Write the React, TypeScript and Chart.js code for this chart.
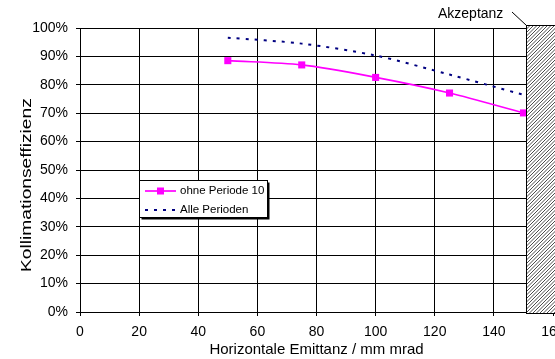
import React, { useEffect, useRef } from 'react';
import { Chart, registerables } from 'chart.js';

Chart.register(...registerables);

// Horizontal emittance (mm mrad) at which the collimation efficiency was evaluated
const emittance = [50, 75, 100, 125, 150];
// Collimation efficiency without period 10
const ohnePeriode10 = [0.885, 0.87, 0.826, 0.771, 0.701];
// Collimation efficiency over all periods
const allePerioden = [0.966, 0.945, 0.903, 0.836, 0.765];

const seriesLabels = ['ohne Periode 10', 'Alle Perioden'];
const xAxisTitle = 'Horizontale Emittanz / mm mrad';
const yAxisTitle = 'Kollimationseffizienz';
const acceptanceLabel = 'Akzeptanz';
// Emittance beyond which the beam is outside the acceptance (hatched band)
const acceptanceLimit = 151;

const xRange = [0, 160];
const xStep = 20;
const yRange = [0, 1];
const yStep = 0.1;

const FONT = '"Liberation Sans", Arial, Helvetica, sans-serif';
const MAGENTA = '#ff00ff';
const NAVY = '#000080';

// Hatched acceptance band with its label and leader line
const acceptancePlugin = {
  id: 'acceptanceBand',
  afterDatasetsDraw(chart: any) {
    const { ctx, chartArea, scales } = chart;
    const left = Math.round(scales.x.getPixelForValue(acceptanceLimit)) + 0.5;
    const right = chart.width + 2;
    const top = Math.round(chartArea.top) - 3 + 0.5;
    const bottom = Math.round(chartArea.bottom) + 1 + 0.5;
    const h = bottom - top;

    ctx.save();
    ctx.fillStyle = '#ffffff';
    ctx.fillRect(left, top, right - left, h);
    ctx.beginPath();
    ctx.rect(left, top, right - left, h);
    ctx.clip();
    ctx.beginPath();
    ctx.strokeStyle = '#000';
    ctx.lineWidth = 0.7;
    for (let s = left - h; s < right; s += 3.5) {
      ctx.moveTo(s, bottom);
      ctx.lineTo(s + h, top);
    }
    ctx.stroke();
    ctx.restore();

    ctx.save();
    ctx.strokeStyle = '#000';
    ctx.lineWidth = 1;
    ctx.strokeRect(left, top, right - left, h);

    // leader line from the label to the band's corner
    ctx.beginPath();
    ctx.moveTo(512, 12);
    ctx.lineTo(left, top);
    ctx.stroke();

    ctx.fillStyle = '#000';
    ctx.font = `14px ${FONT}`;
    ctx.textAlign = 'left';
    ctx.textBaseline = 'middle';
    ctx.fillText(acceptanceLabel, 438, 14);
    ctx.restore();
  },
};

// Boxed legend with drop shadow inside the plot area
const boxLegendPlugin = {
  id: 'boxLegend',
  afterDraw(chart: any) {
    const { ctx } = chart;
    const bx = 139.5;
    const by = 180.5;
    const bw = 128;
    const bh = 37;
    ctx.save();
    ctx.fillStyle = '#000';
    ctx.fillRect(bx + 2, by + 2, bw, bh);
    ctx.fillStyle = '#fff';
    ctx.fillRect(bx, by, bw, bh);
    ctx.strokeStyle = '#000';
    ctx.lineWidth = 1;
    ctx.strokeRect(bx, by, bw, bh);

    ctx.font = `11.5px ${FONT}`;
    ctx.textAlign = 'left';
    ctx.textBaseline = 'middle';
    chart.data.datasets.forEach((ds: any, i: number) => {
      const y = 191 + i * 19;
      ctx.save();
      ctx.strokeStyle = ds.borderColor;
      ctx.lineWidth = ds.borderWidth;
      ctx.setLineDash(ds.borderDash || []);
      ctx.beginPath();
      ctx.moveTo(145, y);
      ctx.lineTo(176, y);
      ctx.stroke();
      ctx.restore();
      if (ds.pointRadius > 0) {
        ctx.fillStyle = ds.pointBackgroundColor;
        ctx.fillRect(157, y - 3.5, 7, 7);
      }
      ctx.fillStyle = '#000';
      ctx.fillText(ds.label, 180, y);
    });
    ctx.restore();
  },
};

// Rotated y-axis title, cut off at the top like its text frame
const yTitlePlugin = {
  id: 'yTitle',
  afterDraw(chart: any) {
    const { ctx } = chart;
    ctx.save();
    ctx.beginPath();
    ctx.rect(0, 98, 70, 240);
    ctx.clip();
    ctx.translate(30.5, 272);
    ctx.rotate(-Math.PI / 2);
    ctx.scale(1.24, 1);
    ctx.fillStyle = '#000';
    ctx.font = `15.5px ${FONT}`;
    ctx.textAlign = 'left';
    ctx.textBaseline = 'alphabetic';
    ctx.fillText(yAxisTitle, 0, 0);
    ctx.restore();
  },
};

export default function App() {
  const canvasRef = useRef<HTMLCanvasElement>(null);

  useEffect(() => {
    const canvas = canvasRef.current;
    if (!canvas) return;

    const chart = new Chart(canvas, {
      type: 'line',
      data: {
        datasets: [
          {
            label: seriesLabels[0],
            data: emittance.map((x, i) => ({ x, y: ohnePeriode10[i] })),
            borderColor: MAGENTA,
            backgroundColor: MAGENTA,
            pointBackgroundColor: MAGENTA,
            pointBorderColor: MAGENTA,
            borderWidth: 1.7,
            pointStyle: 'rect',
            pointRadius: 5,
            pointBorderWidth: 0,
            tension: 0.3,
            fill: false,
          },
          {
            label: seriesLabels[1],
            data: emittance.map((x, i) => ({ x, y: allePerioden[i] })),
            borderColor: NAVY,
            backgroundColor: NAVY,
            pointBackgroundColor: NAVY,
            borderWidth: 2,
            borderDash: [3, 6],
            pointRadius: 0,
            tension: 0.3,
            fill: false,
          },
        ],
      },
      options: {
        responsive: false,
        animation: false,
        events: [],
        layout: { autoPadding: false, padding: { top: 28, right: 2, bottom: 0, left: 0 } },
        plugins: {
          legend: { display: false },
          tooltip: { enabled: false },
        },
        scales: {
          x: {
            type: 'linear',
            min: xRange[0],
            max: xRange[1],
            ticks: {
              stepSize: xStep,
              color: '#000',
              padding: 8,
              font: { family: FONT, size: 14 },
            },
            grid: { color: '#000', lineWidth: 1, drawTicks: true, tickLength: 4, tickColor: '#000' },
            border: { color: '#000', width: 1 },
            title: {
              display: true,
              text: xAxisTitle,
              color: '#000',
              font: { family: FONT, size: 15 },
              padding: { top: 0, bottom: 0 },
            },
            afterFit(scale: any) {
              scale.height = 47;
              scale.paddingLeft = 0;
              scale.paddingRight = 0;
            },
          },
          y: {
            type: 'linear',
            min: yRange[0],
            max: yRange[1],
            ticks: {
              stepSize: yStep,
              color: '#000',
              padding: 8,
              font: { family: FONT, size: 14 },
              callback: (v: any) => `${Math.round(Number(v) * 100)}%`,
            },
            grid: { color: '#000', lineWidth: 1, drawTicks: true, tickLength: 4, tickColor: '#000' },
            border: { color: '#000', width: 1 },
            afterFit(scale: any) {
              scale.width = 80;
              scale.paddingTop = 0;
              scale.paddingBottom = 0;
            },
          },
        },
      },
      plugins: [acceptancePlugin, boxLegendPlugin, yTitlePlugin],
    } as any);

    return () => chart.destroy();
  }, []);

  return (
    <div style={{ position: 'fixed', left: 0, top: 0, width: 555, height: 359, background: '#fff' }}>
      <canvas ref={canvasRef} width={555} height={359} style={{ display: 'block' }} />
    </div>
  );
}
